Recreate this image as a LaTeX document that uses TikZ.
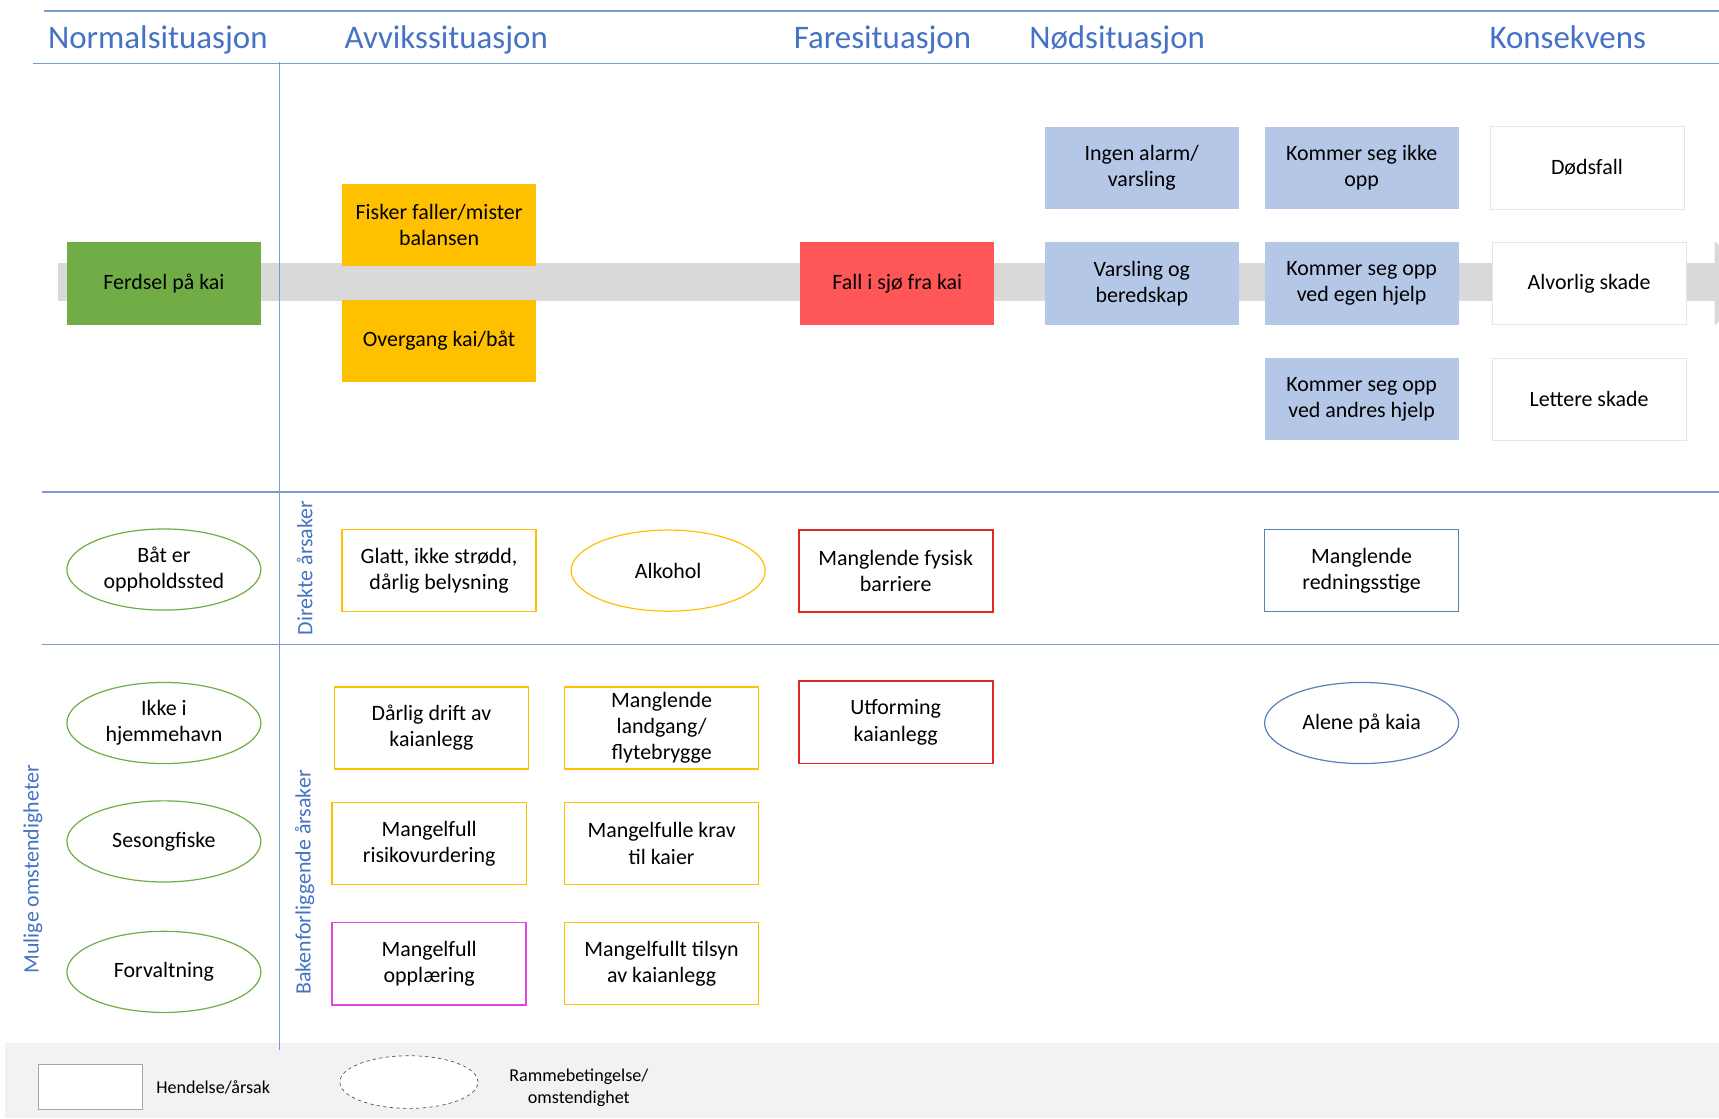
\documentclass[tikz,border=0pt]{standalone}
\usepackage{fontspec}
\setmainfont{Carlito}
\usetikzlibrary{shapes.geometric}
\definecolor{hdrblue}{HTML}{4472C4}
\definecolor{lineblue}{HTML}{7C9CCF}
\definecolor{kaigreen}{HTML}{70AD47}
\definecolor{avvorange}{HTML}{FFC000}
\definecolor{farered}{HTML}{FF5757}
\definecolor{nodblue}{HTML}{B4C7E7}
\definecolor{barred}{HTML}{E02626}
\definecolor{rosa}{HTML}{E046E0}
\definecolor{ringblue}{HTML}{5B80B8}
\definecolor{bargrey}{HTML}{D9D9D9}
\definecolor{legendgrey}{HTML}{F2F2F2}

\begin{document}
\begin{tikzpicture}[x=1pt,y=-1pt,
  every node/.style={font=\fontsize{20}{24}\selectfont,align=center},
  box/.style={rectangle,minimum width=177pt,minimum height=75pt,inner sep=2pt},
  ring/.style={ellipse,minimum width=177pt,minimum height=74pt,inner sep=0pt,line width=1.1pt},
  heading/.style={font=\fontsize{30}{36}\selectfont,text=hdrblue,anchor=base},
  sidelabel/.style={rotate=90,text=hdrblue},
  divider/.style={draw=lineblue,line width=1.4pt}]
\useasboundingbox (0,0) rectangle (1568,1020);
% legend strip and grey arrow bar
\fill[legendgrey] (5,951) rectangle (1568,1020);
\fill[bargrey] (53,240) rectangle (1566,275);
\fill[bargrey] (1564,220) -- (1604,258) -- (1564,297) -- cycle;
% grid
\draw[divider] (40,10) -- (1568,10);
\draw[divider] (30,58) -- (1568,58);
\draw[divider] (38,449) -- (1568,449);
\draw[divider] (38,588) -- (1568,588);
\draw[divider] (255,57) -- (255,958);
% headings
\node[heading] (hnormal) at (144,44) {Normalsituasjon};
\node[heading] (havvik) at (407,44) {Avvikssituasjon};
\node[heading] (hfare) at (805,44) {Faresituasjon};
\node[heading] (hnod) at (1019,44) {Nødsituasjon};
\node[heading] (hkons) at (1430,44) {Konsekvens};
\node[sidelabel] (lmulige) at (30,793) {Mulige omstendigheter};
\node[sidelabel] (ldirekte) at (278,518) {Direkte årsaker};
\node[sidelabel] (lbaken) at (278,805) {Bakenforliggende årsaker};
% event chain
\node[box,fill=kaigreen] (ferdsel) at (149.5,258.5) {Ferdsel på kai};
\node[box,fill=avvorange] (fisker) at (400.5,205.5) {Fisker faller/mister\\balansen};
\node[box,fill=avvorange] (overgang) at (400.5,311) {Overgang kai/båt};
\node[box,fill=farered] (fall) at (818.5,258.5) {Fall i sjø fra kai};
\node[box,fill=nodblue] (ingenalarm) at (1041.5,153) {Ingen alarm/\\varsling};
\node[box,fill=nodblue] (varsling) at (1041.5,258.5) {Varsling og\\beredskap};
\node[box,fill=nodblue] (ikkeopp) at (1242,153) {Kommer seg ikke\\opp};
\node[box,fill=nodblue] (egenhjelp) at (1242,258.5) {Kommer seg opp\\ved egen hjelp};
\node[box,fill=nodblue] (andreshjelp) at (1242,364) {Kommer seg opp\\ved andres hjelp};
\node[box,fill=white,draw=black!10] (dodsfall) at (1447.5,153) {Dødsfall};
\node[box,fill=white,draw=black!10] (alvorlig) at (1449.5,258.5) {Alvorlig skade};
\node[box,fill=white,draw=black!10] (lettere) at (1449.5,364) {Lettere skade};
% direct causes
\node[ring,draw=kaigreen] (batopph) at (149.5,519.5) {Båt er\\oppholdssted};
\node[box,draw=avvorange,line width=1.3pt] (glatt) at (400.5,520.5) {Glatt, ikke strødd,\\dårlig belysning};
\node[ring,draw=avvorange] (alkohol) at (609.5,520.5) {Alkohol};
\node[box,draw=barred,line width=1.6pt] (barriere) at (817,521) {Manglende fysisk\\barriere};
\node[box,draw=ringblue,line width=1.3pt] (stige) at (1242,520.5) {Manglende\\redningsstige};
% underlying causes
\node[ring,draw=kaigreen] (hjemmehavn) at (149.5,659.5) {Ikke i\\hjemmehavn};
\node[ring,draw=kaigreen] (sesong) at (149.5,767.5) {Sesongfiske};
\node[ring,draw=kaigreen] (forvaltning) at (149.5,886.5) {Forvaltning};
\node[box,draw=avvorange,line width=1.3pt] (drift) at (393.5,664) {Dårlig drift av\\kaianlegg};
\node[box,draw=avvorange,line width=1.3pt] (landgang) at (603.5,664) {Manglende\\landgang/\\flytebrygge};
\node[box,draw=avvorange,line width=1.3pt] (risiko) at (391.5,769.5) {Mangelfull\\risikovurdering};
\node[box,draw=avvorange,line width=1.3pt] (krav) at (603.5,769.5) {Mangelfulle krav\\til kaier};
\node[box,draw=rosa,line width=1.6pt] (opplaering) at (391.5,879) {Mangelfull\\opplæring};
\node[box,draw=avvorange,line width=1.3pt] (tilsyn) at (603.5,879) {Mangelfullt tilsyn\\av kaianlegg};
\node[box,draw=barred,line width=1.6pt] (utforming) at (817,659) {Utforming\\kaianlegg};
\node[ring,draw=ringblue] (alene) at (1242,659.5) {Alene på kaia};
% legend
\node[rectangle,draw=black!35,fill=white,minimum width=95pt,minimum height=41pt] (legbox) at (82.5,991.5) {};
\node[font=\fontsize{16.5}{20}\selectfont,anchor=west] (legboxtext) at (139,992) {Hendelse/årsak};
\node[ellipse,draw=black!70,dashed,line width=0.6pt,fill=white,minimum width=126pt,minimum height=48pt] (legring) at (373,987) {};
\node[font=\fontsize{16.5}{20}\selectfont] (legringtext) at (528,992) {Rammebetingelse/\\omstendighet};
\end{tikzpicture}
\end{document}
